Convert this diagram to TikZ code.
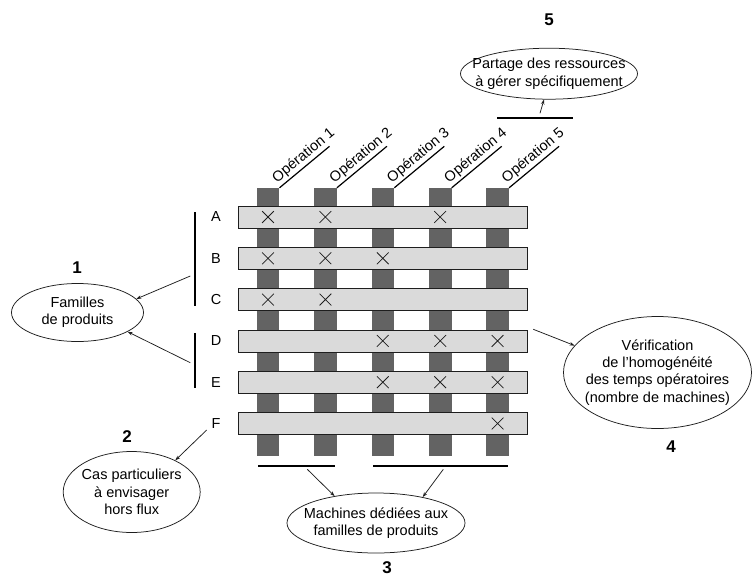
\documentclass[tikz,border=0pt]{standalone}
\usepackage{fontspec}
\setmainfont{Liberation Sans}
\usetikzlibrary{shapes.geometric,shapes.misc,arrows.meta,calc}
\definecolor{colgray}{HTML}{636363}
\definecolor{rowgray}{HTML}{DADADA}
\definecolor{ink}{HTML}{1E1E1E}
\begin{document}
\begin{tikzpicture}[x=1pt,y=-1pt,
  colbox/.style={fill=colgray,draw=none,minimum width=22.6pt,minimum height=268pt,inner sep=0},
  rowbox/.style={fill=rowgray,draw=ink,line width=0.8pt,minimum width=289pt,minimum height=22pt,inner sep=0},
  xmark/.style={cross out,draw=ink,line width=0.75pt,minimum size=11pt,inner sep=0},
  ell/.style={ellipse,draw=ink,line width=0.75pt,inner sep=0},
  txt/.style={font=\fontsize{14.5}{17.3}\selectfont,align=center,inner sep=0},
  num/.style={font=\fontsize{17}{19}\selectfont\bfseries,inner sep=0},
  letter/.style={font=\fontsize{14.5}{17}\selectfont,inner sep=0},
  oplabel/.style={font=\fontsize{14.5}{17}\selectfont,rotate=39.7,anchor=south,inner sep=2pt},
  bar/.style={draw=black,line width=1.4pt},
  lead/.style={draw=black,line width=1.2pt},
  arr/.style={draw=ink,line width=0.75pt,-{Stealth[length=5pt,width=3.5pt]}}]
\useasboundingbox (0,0) rectangle (755,576);
% columns (machines)
\foreach \i in {1,...,5}{
  \node[colbox] (c\i) at ({268+57.4*(\i-1)},322) {};
}
% rows (products)
\foreach \r [count=\j from 0] in {A,B,C,D,E,F}{
  \node[rowbox] (r\r) at (382.5,{217+41.3*\j}) {};
  \node[letter] (l\r) at (216,{217+41.3*\j}) {\r};
}
% crosses
\foreach \r/\c in {A/1,A/2,A/4,B/1,B/2,B/3,C/1,C/2,D/3,D/4,D/5,E/3,E/4,E/5,F/5}{
  \node[xmark] (x\r\c) at (c\c |- r\r) {};
}
% operation leaders and labels
\foreach \i in {1,...,5}{
  \coordinate (os\i) at (c\i.north east);
  \coordinate (oe\i) at ($(c\i.north east)+(50,-41.5)$);
  \draw[lead] (os\i) -- (oe\i);
  \node[oplabel] (ol\i) at ($(os\i)!0.6!(oe\i)$) {Opération \i};
}
% ellipses
\node[ell,minimum width=132pt,minimum height=58pt] (n1) at (77.5,312.5) {};
\node[txt] (t1) at (n1) {Familles\\de produits};
\node[num] (k1) at (77,268) {1};
\node[ell,minimum width=137pt,minimum height=81pt] (n2) at (131.7,492) {};
\node[txt] (t2) at (n2) {Cas particuliers\\à envisager\\hors flux};
\node[num] (k2) at (127,437) {2};
\node[ell,minimum width=178pt,minimum height=60pt] (n3) at (376,523) {};
\node[txt] (t3) at (n3) {Machines dédiées aux\\familles de produits};
\node[num] (k3) at (387,568) {3};
\node[ell,minimum width=188pt,minimum height=112pt] (n4) at (657.5,372.5) {};
\node[txt] (t4) at (n4) {Vérification\\de l’homogénéité\\des temps opératoires\\(nombre de machines)};
\node[num] (k4) at (671,447) {4};
\node[ell,minimum width=177pt,minimum height=51pt] (n5) at (549,73.7) {};
\node[txt] (t5) at (n5) {Partage des ressources\\à gérer spécifiquement};
\node[num] (k5) at (549,20) {5};
% brackets and bars
\coordinate (bA) at (195,212); \coordinate (bC) at (195,306);
\coordinate (bD) at (195,333); \coordinate (bE) at (195,388);
\draw[bar] (bA) -- (bC);
\draw[bar] (bD) -- (bE);
\coordinate (m1a) at (258,466); \coordinate (m1b) at (335,466);
\coordinate (m2a) at (373,466); \coordinate (m2b) at (508,466);
\draw[bar] (m1a) -- (m1b);
\draw[bar] (m2a) -- (m2b);
\coordinate (p5a) at (497,118); \coordinate (p5b) at (573,118);
\draw[bar] (p5a) -- (p5b);
% arrows
\coordinate (s1a) at (190.3,276);
\coordinate (s1b) at (190.3,362.7);
\draw[arr] (s1a) -- (n1.13);
\draw[arr] (s1b) -- (n1.339);
\coordinate (s2) at (206.7,430);
\draw[arr] (s2) -- (n2.36);
\coordinate (s3a) at (307.3,469.3);
\coordinate (s3b) at (443.3,469.3);
\draw[arr] (s3a) -- (n3.147.6);
\draw[arr] (s3b) -- (n3.29.6);
\coordinate (s4) at (533.3,329.3);
\draw[arr] (s4) -- (n4.162.6);
\coordinate (s5) at (540,113.3);
\draw[arr] (s5) -- (n5.259);
\end{tikzpicture}
\end{document}
